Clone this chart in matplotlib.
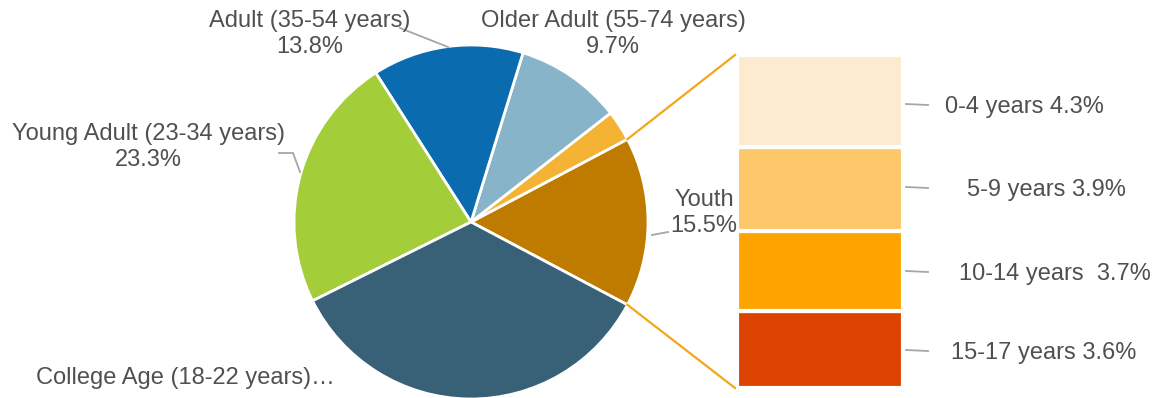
import matplotlib.pyplot as plt

# pie slices, counter-clockwise starting with Youth (the slice broken out into the bar)
pie_names = ['Youth', '', 'Older Adult (55-74 years)', 'Adult (35-54 years)',
             'Young Adult (23-34 years)', 'College Age (18-22 years)']
pie_values = [15.5, 2.8, 9.7, 13.8, 23.3, 34.9]
pie_colors = ['#bf7a00', '#f5b335', '#88b4c9', '#0a6bae', '#a4cd3a', '#386178']

# breakdown of Youth, top to bottom
bar_names = ['0-4 years', '5-9 years', '10-14 years ', '15-17 years']
bar_values = [4.3, 3.9, 3.7, 3.6]
bar_colors = ['#fdebd0', '#fdc86a', '#fda400', '#dc4200']

plt.rcParams['font.family'] = ['Liberation Sans', 'DejaVu Sans']
txt = '#505050'
lead = '#a6a6a6'
H = 398

fig = plt.figure(figsize=(11.6, 3.98), dpi=100)
ax = fig.add_axes([0, 0, 1, 1])

cx, cy, r = 471, H - 222, 177
wedges, _ = ax.pie(pie_values, colors=pie_colors, center=(cx, cy), radius=r,
                   startangle=-pie_values[0] * 3.6 / 2, counterclock=True,
                   wedgeprops=dict(edgecolor='white', linewidth=2))
ax.set_xlim(0, 1160)
ax.set_ylim(0, H)
ax.set_aspect('equal')
ax.axis('off')

# pie labels (image coords -> y up)
def lab(x, y, s, ha='center'):
    ax.text(x, H - y, s, ha=ha, va='center', fontsize=17, color=txt, linespacing=1.28)

lab(310, 34, f'{pie_names[3]}\n{pie_values[3]}%')
lab(613, 34, f'{pie_names[2]}\n{pie_values[2]}%')
lab(148, 147, f'{pie_names[4]}\n{pie_values[4]}%')
lab(704, 213, f'{pie_names[0]}\n{pie_values[0]}%')
lab(36, 378, f'{pie_names[5]}…', ha='left')

ax.plot([400, 448], [H - 28, H - 47], color=lead, lw=1.3)
ax.plot([279, 293, 300], [H - 153, H - 153, H - 172], color=lead, lw=1.3)
ax.plot([652, 668], [H - 235, H - 232], color=lead, lw=1.3)

# bar of the breakdown
bx0, bx1, by0, by1 = 737, 903, 388, 55
bax = fig.add_axes([bx0 / 1160, (H - by0) / H, (bx1 - bx0) / 1160, (by0 - by1) / H])
bottom = 0
for v, c in zip(bar_values[::-1], bar_colors[::-1]):
    bax.bar(0, v, bottom=bottom, width=1, color=c, edgecolor='white', linewidth=3)
    bottom += v
bax.set_xlim(-0.5, 0.5)
bax.set_ylim(0, sum(bar_values))
bax.axis('off')

# connectors from Youth slice to bar
import numpy as np
w = wedges[0]
for ang, yb in [(w.theta2, by1), (w.theta1, by0)]:
    px = cx + r * np.cos(np.radians(ang))
    py = cy + r * np.sin(np.radians(ang))
    ax.plot([px, bx0 - 2], [py, H - yb], color='#f0a818', lw=1.6)

# bar labels
bar_lab_x = [1024, 1046, 1055, 1044]
bar_lab_y = [107, 190, 274, 353]
for n, v, x, y in zip(bar_names, bar_values, bar_lab_x, bar_lab_y):
    ax.text(x, H - y, f'{n} {v}%', ha='center', va='center', fontsize=17, color=txt)
    ax.plot([906, 928], [H - y + 3, H - y + 2], color=lead, lw=1.3)

fig.savefig('out.png', dpi=100)
